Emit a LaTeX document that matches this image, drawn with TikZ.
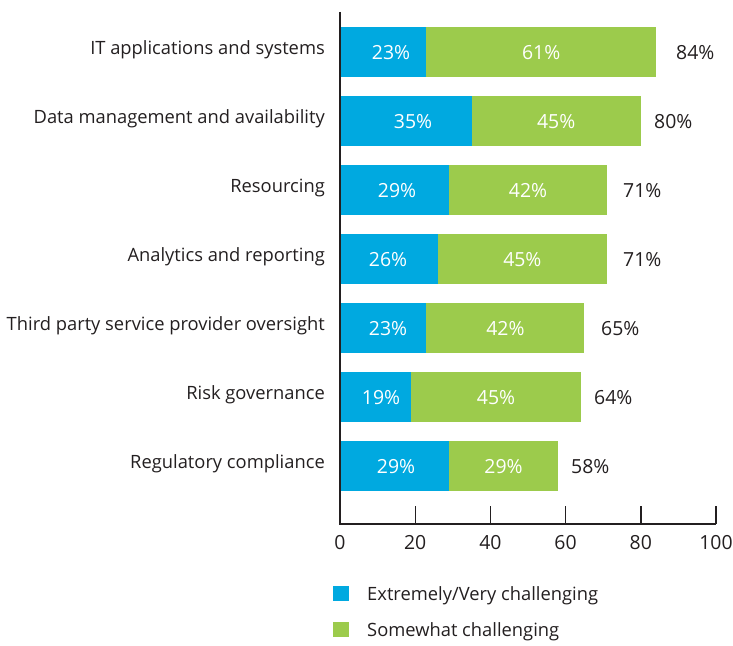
\documentclass[tikz,border=0pt]{standalone}
\usepackage{fontspec}
\setmainfont{Open Sans}
\definecolor{cblue}{RGB}{0,169,224}
\definecolor{cgreen}{RGB}{156,203,76}
\definecolor{ctext}{RGB}{35,31,32}
\begin{document}
\begin{tikzpicture}[x=1bp,y=-1bp,
  every node/.style={font=\fontsize{18.4}{22}\selectfont, text=ctext, inner sep=0pt},
  numfont/.style={font=\fontsize{19.5}{23}\selectfont},
  catlbl/.style={anchor=base east},
  inlbl/.style={numfont, anchor=base, text=white},
  totlbl/.style={numfont, anchor=base west},
  ticklbl/.style={numfont, anchor=base},
  leglbl/.style={anchor=base west},
  axisline/.style={line width=2bp, draw=ctext},
  tickline/.style={line width=1.4bp, draw=ctext}]
\useasboundingbox (0,0) rectangle (733,646);
\foreach \i/\name/\a/\b/\ax/\tx in {
  0/IT applications and systems/23/61/391/676,
  1/Data management and availability/35/45/413/654,
  2/Resourcing/29/42/397/623,
  3/Analytics and reporting/26/45/388/623,
  4/Third party service provider oversight/23/42/388/601,
  5/Risk governance/19/45/381/594,
  6/Regulatory compliance/29/29/396/571} {
  \pgfmathsetmacro\yt{27+69*\i}
  \pgfmathsetmacro\xa{340+3.76*\a}
  \pgfmathsetmacro\xb{340+3.76*(\a+\b)}
  \pgfmathtruncatemacro\tot{\a+\b}
  \fill[cblue] (340,\yt) rectangle (\xa,\yt+50);
  \fill[cgreen] (\xa,\yt) rectangle (\xb,\yt+50);
  \node[catlbl] (cat\i) at (325,\yt+27.5) {\name};
  \node[inlbl] (a\i) at (\ax,\yt+32.3) {\a\%};
  \node[inlbl] (b\i) at ({(\xa+\xb)/2},\yt+32.3) {\b\%};
  \node[totlbl] (t\i) at (\tx,\yt+32.3) {\tot\%};
}
\draw[axisline] (340,12) -- (340,524) -- (716,524);
\foreach \v in {20,40,60,80,100} {
  \draw[tickline] ({340+3.76*\v},506) -- ({340+3.76*\v},524);
}
\foreach \v in {0,20,40,60,80,100} {
  \node[ticklbl] (tick\v) at ({340+3.76*\v},549.3) {\v};
}
\fill[cblue] (333,586) rectangle (349,601);
\fill[cgreen] (333,622) rectangle (349,637);
\node[leglbl] (legA) at (367,600.7) {Extremely/Very challenging};
\node[leglbl] (legB) at (367,636.7) {Somewhat challenging};
\end{tikzpicture}
\end{document}
